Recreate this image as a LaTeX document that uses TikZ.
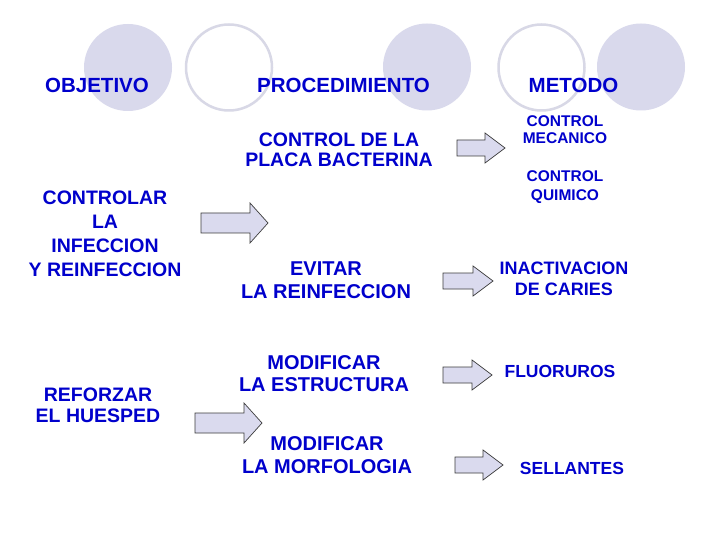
\documentclass[tikz,border=0pt]{standalone}
\usepackage{fontspec}
\setmainfont{Liberation Sans}
\usetikzlibrary{calc}
\definecolor{tblue}{RGB}{0,0,204}
\definecolor{cfill}{RGB}{217,217,236}
\definecolor{cline}{RGB}{216,216,230}
\definecolor{afill}{RGB}{218,218,238}
\definecolor{aline}{RGB}{60,60,60}
\newcommand{\fsz}[2]{\fontsize{#1bp}{#2bp}\selectfont\bfseries}
% block arrow from named coordinate #1 to named coordinate #2
\newcommand{\blockarr}[5]{%
  \draw[arrowbox] ($(#1)+(0,-#3)$) -- ($(#2)+(-#5,-#3)$) -- ($(#2)+(-#5,-#4)$) -- (#2)
    -- ($(#2)+(-#5,#4)$) -- ($(#2)+(-#5,#3)$) -- ($(#1)+(0,#3)$) -- cycle;}
\begin{document}
\begin{tikzpicture}[x=1bp,y=-1bp,
  txt/.style={text=tblue, align=center, inner sep=0pt},
  hd/.style={txt, font=\fsz{20.5}{24}},
  arrowbox/.style={draw=aline, line width=0.7bp, fill=afill, line join=miter},
  ring/.style={draw=cline, line width=2.5bp},
  disc/.style={fill=cfill}]
\useasboundingbox (0,0) rectangle (720,540);
\fill[white] (0,0) rectangle (720,540);
% decorative circles
\path[disc] (128,67.5) ellipse [x radius=44, y radius=43.5];
\path[ring] (229,67.5) ellipse [x radius=43, y radius=43];
\path[disc] (427,67) ellipse [x radius=44, y radius=43.5];
\path[ring] (541.5,67.5) ellipse [x radius=43, y radius=43];
\path[disc] (641,67) ellipse [x radius=44, y radius=43.5];
% headers
\node[hd] (obj) at (97,85.5) {OBJETIVO};
\node[hd] (proc) at (343.5,85.5) {PROCEDIMIENTO};
\node[hd] (met) at (573.5,85.5) {METODO};
% objectives
\node[txt, font=\fsz{19.5}{24}] (o1) at (105,234) {CONTROLAR\\LA\\INFECCION\\Y REINFECCION};
\node[txt, font=\fsz{19.5}{21}] (o2) at (98,405) {REFORZAR\\EL HUESPED};
% procedures
\node[txt, font=\fsz{19.5}{20}] (p1) at (339,150) {CONTROL DE LA\\PLACA BACTERINA};
\node[txt, font=\fsz{20}{23}] (p2) at (326,280.5) {EVITAR\\LA REINFECCION};
\node[txt, font=\fsz{20}{22}] (p3) at (324,374) {MODIFICAR\\LA ESTRUCTURA};
\node[txt, font=\fsz{20}{22.5}] (p4) at (327,455) {MODIFICAR\\LA MORFOLOGIA};
% methods
\node[txt, font=\fsz{15.5}{17.5}] (m1) at (565,129.5) {CONTROL\\MECANICO};
\node[txt, font=\fsz{15.5}{19}] (m2) at (565,187) {CONTROL\\QUIMICO};
\node[txt, font=\fsz{18}{21}] (m3) at (564,279) {INACTIVACION\\DE CARIES};
\node[txt, font=\fsz{17.5}{21}] (m4) at (560,371.5) {FLUORUROS};
\node[txt, font=\fsz{17.5}{21}] (m5) at (572,468.5) {SELLANTES};
% arrow end points
\coordinate (b1s) at (201,223);  \coordinate (b1e) at (268,223);
\coordinate (b2s) at (195,423);  \coordinate (b2e) at (262,423);
\coordinate (a1s) at (457,148);  \coordinate (a1e) at (505,148);
\coordinate (a2s) at (443,281);  \coordinate (a2e) at (493,281);
\coordinate (a3s) at (443,375);  \coordinate (a3e) at (492,375);
\coordinate (a4s) at (455,465);  \coordinate (a4e) at (503,465);
\blockarr{b1s}{b1e}{10}{20}{18}
\blockarr{b2s}{b2e}{10}{20}{18}
\blockarr{a1s}{a1e}{8}{15}{20}
\blockarr{a2s}{a2e}{8}{15}{20}
\blockarr{a3s}{a3e}{8}{15}{20}
\blockarr{a4s}{a4e}{8}{15}{20}
\end{tikzpicture}
\end{document}
